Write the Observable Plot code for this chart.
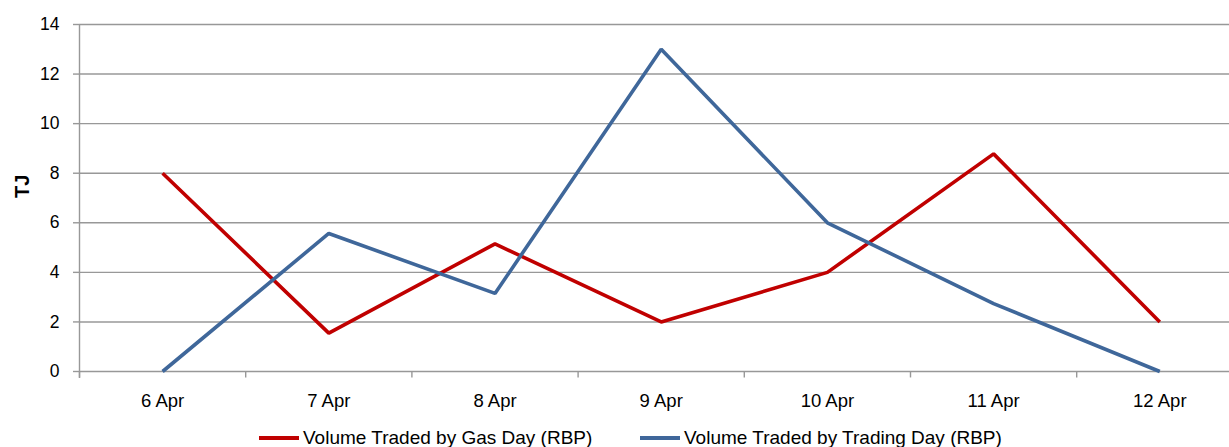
<!DOCTYPE html>
<html><head><meta charset="utf-8">
<script src="https://cdn.jsdelivr.net/npm/d3@7"></script>
<script src="https://cdn.jsdelivr.net/npm/@observablehq/plot@0.6"></script>
<style>
body{margin:0;background:#fff;font-family:"Liberation Sans",Arial,sans-serif;overflow:hidden;}
#legend{position:relative;height:32px;font-size:19px;color:#000;}
.item{display:flex;align-items:center;position:absolute;top:12px;height:22px;}
.sw{width:40px;height:4px;margin-right:4px;}
</style></head>
<body><div id="chart"></div><div id="legend"></div>
<script>
const categories = ["6 Apr","7 Apr","8 Apr","9 Apr","10 Apr","11 Apr","12 Apr"];
const gasDay = [8, 1.55, 5.15, 2, 4, 8.78, 2];
const tradingDay = [0, 5.57, 3.15, 13, 6, 2.74, 0];
const yTicks = [0,2,4,6,8,10,12,14];
const seriesNames = ["Volume Traded by Gas Day (RBP)","Volume Traded by Trading Day (RBP)"];
const colors = ["#C00000","#3F679A"];

const data = [];
categories.forEach((c,i)=>{
  data.push({i, cat:c, value:gasDay[i], series:seriesNames[0]});
});
categories.forEach((c,i)=>{
  data.push({i, cat:c, value:tradingDay[i], series:seriesNames[1]});
});
const boundaries = categories.map((c,i)=>({b:i-0.5}));

const chart = Plot.plot({
  width:1229, height:415,
  marginLeft:79, marginRight:0, marginTop:24, marginBottom:44,
  style:{fontFamily:'"Liberation Sans",Arial,sans-serif', fontSize:"17px", color:"#000", overflow:"visible"},
  x:{type:"linear", domain:[-0.5, categories.length-0.5], range:[79, 79+7*166.2]},
  y:{domain:[0,14]},
  color:{domain:seriesNames, range:colors},
  marks:[
    Plot.gridY(yTicks, {stroke:"#989898", strokeOpacity:1, strokeWidth:1.4}),
    Plot.ruleX([-0.5], {y1:-0.28, y2:14, stroke:"#989898", strokeWidth:1.4}),
    Plot.ruleX(boundaries, {x:"b", y1:-0.26, y2:0, stroke:"#989898", strokeWidth:1.4}),
    Plot.axisY(yTicks, {tickSize:6, tickPadding:14, stroke:"#989898", strokeWidth:1.4, fill:"#000", fontSize:17.5, label:null}),
    Plot.axisX(categories.map((c,i)=>i), {tickSize:0, tickPadding:22, tickFormat:i=>categories[i], fill:"#000", fontSize:18.5, label:null}),
    Plot.text(["TJ"], {frameAnchor:"left", dx:-57, rotate:-90, fontWeight:"bold", fontSize:20, fill:"#000"}),
    Plot.line(data, {x:"i", y:"value", stroke:"series", z:"series", strokeWidth:3.6, strokeLinejoin:"miter", strokeLinecap:"butt"})
  ]
});
document.getElementById("chart").appendChild(chart);

const legend = document.getElementById("legend");
const lefts = [259, 640];
seriesNames.forEach((n,k)=>{
  const it = document.createElement("div");
  it.className="item"; it.style.left = lefts[k]+"px";
  it.innerHTML = `<span class="sw" style="background:${colors[k]}"></span><span>${n}</span>`;
  legend.appendChild(it);
});
</script></body></html>
